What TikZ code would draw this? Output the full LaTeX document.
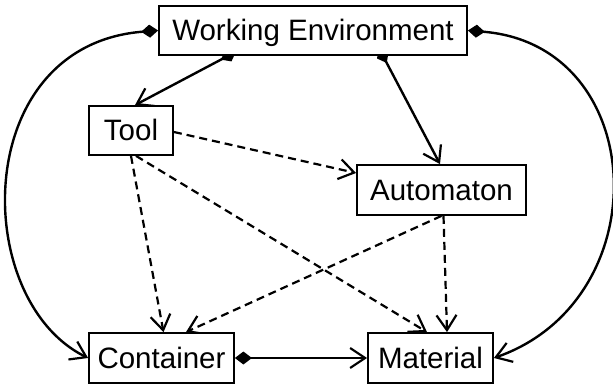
\documentclass[tikz,border=0pt]{standalone}
\usepackage{fontspec}
\setmainfont{Liberation Sans}
\usetikzlibrary{arrows.meta,backgrounds}
\tikzset{
  box/.style={draw, line width=1.8pt, fill=white, inner sep=0pt,
    minimum height=49pt, font=\fontsize{29.5}{30}\selectfont,
    text height=21pt, text depth=0pt},
  conn/.style={line width=2.4pt},
  dep/.style={line width=2.2pt, dash pattern=on 8pt off 5pt},
  open/.style={-{Straight Barb[length=15pt,width=20pt,line width=2.2pt]}},
  own/.style={{Diamond[length=17pt,width=13pt]}-{Straight Barb[length=15pt,width=20pt,line width=2.2pt]}},
}
\begin{document}
\begin{tikzpicture}[x=1pt,y=-1pt]
\useasboundingbox (0,0) rectangle (613,385);

\node[box, minimum width=308pt] (we)   at (313,30.5)  {Working Environment};
\node[box, minimum width=84pt]  (tool) at (131,130.5) {Tool};
\node[box, minimum width=169pt, minimum height=50pt] (auto) at (441.5,190) {Automaton};
\node[box, minimum width=145pt, minimum height=50pt] (cont) at (161.5,358) {Container};
\node[box, minimum width=125pt, minimum height=50pt] (mat)  at (430.5,358) {Material};

\begin{scope}[on background layer]
  % ownership from the working environment
  \draw[conn, own, shorten <=-9pt] ([xshift=-85pt]we.south) -- ([xshift=4pt]tool.north);
  \draw[conn, own, shorten <=-9pt] ([xshift=70pt]we.south) -- ([xshift=-1.5pt]auto.north);
  \draw[conn, own] (we.west) .. controls (-30,45) and (-30,300) .. (cont.west);
  \draw[conn, own] (we.east) .. controls (650,45) and (660,300) .. (mat.east);
  \draw[conn, own] (cont.east) -- (mat.west);

  % dependencies
  \draw[dep, open] ([yshift=-1.5pt]tool.east) -- ([yshift=17pt]auto.west);
  \draw[dep, open] (tool.south) -- ([xshift=2pt]cont.north);
  \draw[dep, open] ([xshift=5pt]tool.south) -- ([xshift=-3.5pt]mat.north);
  \draw[dep, open] (auto.south) -- ([xshift=24.5pt]cont.north);
  \draw[dep, open] ([xshift=2pt]auto.south) -- ([xshift=16.5pt]mat.north);
\end{scope}
\end{tikzpicture}
\end{document}
